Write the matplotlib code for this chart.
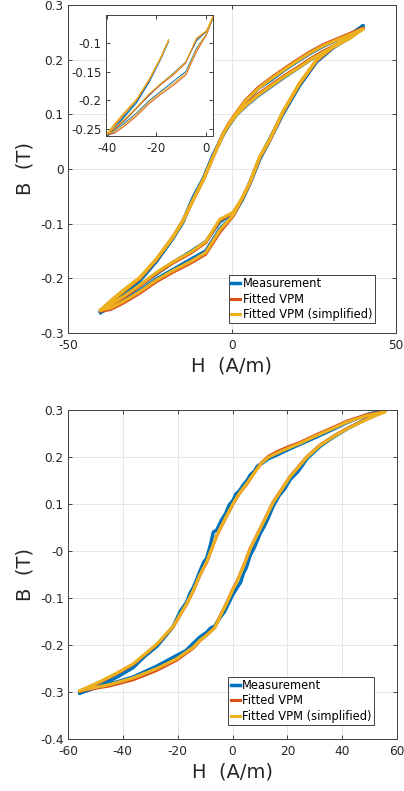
import numpy as np
import matplotlib
matplotlib.use('Agg')
import matplotlib.pyplot as plt
from matplotlib.ticker import FuncFormatter

plt.rcParams['font.family'] = ['DejaVu Sans']
plt.rcParams['axes.unicode_minus'] = False

c_meas = '#0072BD'
c_vpm = '#D95319'
c_simp = '#EDB120'
labels = ['Measurement', 'Fitted VPM', 'Fitted VPM (simplified)']

# ---- top loop (40 A/m), two cycles per series ----
h_asc_top = [-40, -37, -33, -28, -23, -18, -12.8, -8, -3.7, 0.4, 3, 5.5, 8.5, 11.6, 15.6, 20.7, 25.8, 30.9, 36, 40]
h_desc_top = [40, 36, 32, 28, 24, 20, 16, 12, 8, 4, 1.4, -1, -2.6, -5.7, -8.7, -11.8, -15, -18, -23, -28, -33, -37, -40]

meas_asc_1 = [-0.262, -0.251, -0.236, -0.213, -0.192, -0.171, -0.152, -0.133, -0.097, -0.080, -0.057, -0.024, 0.020, 0.056, 0.103, 0.155, 0.197, 0.223, 0.243, 0.262]
meas_asc_2 = [-0.262, -0.254, -0.240, -0.222, -0.201, -0.184, -0.166, -0.150, -0.110, -0.085, -0.058, -0.027, 0.018, 0.053, 0.101, 0.153, 0.196, 0.222, 0.241, 0.260]
meas_desc_1 = [0.262, 0.246, 0.236, 0.225, 0.212, 0.197, 0.181, 0.163, 0.147, 0.121, 0.101, 0.080, 0.064, 0.026, -0.017, -0.052, -0.097, -0.126, -0.168, -0.203, -0.227, -0.247, -0.262]
meas_desc_2 = [0.262, 0.240, 0.227, 0.214, 0.200, 0.184, 0.168, 0.151, 0.134, 0.114, 0.099, 0.079, 0.063, 0.025, -0.018, -0.053, -0.098, -0.127, -0.169, -0.204, -0.229, -0.249, -0.262]

vpm_asc_1 = [-0.260, -0.250, -0.235, -0.214, -0.191, -0.172, -0.155, -0.135, -0.094, -0.080, -0.055, -0.025, 0.022, 0.054, 0.105, 0.157, 0.199, 0.224, 0.242, 0.258]
vpm_asc_2 = [-0.260, -0.257, -0.245, -0.227, -0.206, -0.189, -0.173, -0.156, -0.116, -0.086, -0.056, -0.026, 0.021, 0.053, 0.104, 0.156, 0.198, 0.223, 0.241, 0.257]
vpm_desc_1 = [0.258, 0.248, 0.238, 0.228, 0.215, 0.200, 0.184, 0.167, 0.149, 0.125, 0.104, 0.083, 0.066, 0.023, -0.019, -0.056, -0.095, -0.124, -0.165, -0.199, -0.222, -0.242, -0.258]
vpm_desc_2 = [0.257, 0.241, 0.228, 0.216, 0.202, 0.186, 0.171, 0.154, 0.137, 0.116, 0.100, 0.081, 0.065, 0.022, -0.020, -0.057, -0.096, -0.125, -0.166, -0.200, -0.224, -0.244, -0.258]

simp_asc_1 = [-0.258, -0.248, -0.233, -0.212, -0.189, -0.170, -0.153, -0.133, -0.092, -0.079, -0.054, -0.024, 0.023, 0.055, 0.106, 0.158, 0.200, 0.225, 0.243, 0.256]
simp_asc_2 = [-0.258, -0.254, -0.242, -0.224, -0.203, -0.186, -0.170, -0.153, -0.112, -0.084, -0.055, -0.025, 0.022, 0.054, 0.105, 0.157, 0.199, 0.224, 0.242, 0.256]
simp_desc_1 = [0.256, 0.246, 0.236, 0.226, 0.213, 0.198, 0.182, 0.165, 0.147, 0.123, 0.103, 0.082, 0.065, 0.023, -0.019, -0.056, -0.095, -0.124, -0.164, -0.198, -0.221, -0.241, -0.258]
simp_desc_2 = [0.256, 0.239, 0.226, 0.214, 0.200, 0.184, 0.169, 0.152, 0.135, 0.115, 0.099, 0.080, 0.064, 0.022, -0.020, -0.057, -0.096, -0.125, -0.165, -0.199, -0.223, -0.243, -0.258]

# ---- bottom loop (55 A/m) ----
h_desc_bot = [55.6, 49, 42, 36.7, 30, 24.6, 20, 16.1, 13, 10.6, 8, 5.3, 2.5, 0.2, -2.5, -5.7, -9.4, -11.9, -14.3, -16.6, -21.6, -27.6, -36.2, -42, -48.3, -55.6]
h_asc_bot = [-55.6, -50, -44.7, -36.2, -27.6, -20.3, -14.4, -11.9, -9.4, -6.5, -4.6, -2, 0.2, 1.6, 4, 6.4, 10, 14.8, 21, 27.2, 32, 36.7, 41.5, 46.5, 51, 55.6]

vpm_desc_bot = [0.297, 0.290, 0.277, 0.263, 0.246, 0.231, 0.221, 0.211, 0.201, 0.188, 0.167, 0.143, 0.122, 0.100, 0.070, 0.033, -0.024, -0.052, -0.085, -0.112, -0.161, -0.199, -0.241, -0.260, -0.279, -0.298]
vpm_asc_bot = [-0.298, -0.292, -0.287, -0.274, -0.254, -0.232, -0.207, -0.191, -0.179, -0.163, -0.139, -0.109, -0.080, -0.065, -0.032, 0.005, 0.047, 0.104, 0.159, 0.201, 0.226, 0.244, 0.260, 0.274, 0.286, 0.297]
simp_desc_bot = [0.296, 0.288, 0.275, 0.261, 0.244, 0.229, 0.218, 0.208, 0.199, 0.187, 0.167, 0.144, 0.123, 0.101, 0.071, 0.034, -0.023, -0.051, -0.084, -0.111, -0.160, -0.198, -0.240, -0.259, -0.278, -0.297]
simp_asc_bot = [-0.297, -0.290, -0.284, -0.270, -0.250, -0.229, -0.205, -0.190, -0.179, -0.164, -0.140, -0.110, -0.081, -0.066, -0.033, 0.004, 0.046, 0.103, 0.158, 0.200, 0.225, 0.243, 0.259, 0.273, 0.285, 0.296]

# measurement is read on a finer grid (it is noisier)
h_meas_desc_bot = [55.6, 49, 42, 36.7, 30, 24.6, 20, 16.1, 13, 10.6, 9, 8, 6.5, 5.3, 4, 2.5, 1.2, 0.2, -1.2, -2.5, -4, -5.7, -7, -8, -9.4, -10.5, -11.9, -13, -14.3, -15.5, -16.6, -19, -21.6, -24, -27.6, -32, -36.2, -42, -48.3, -55.6]
meas_desc_bot = [0.300, 0.290, 0.274, 0.259, 0.241, 0.227, 0.215, 0.204, 0.196, 0.186, 0.180, 0.170, 0.162, 0.150, 0.141, 0.128, 0.121, 0.108, 0.098, 0.080, 0.066, 0.045, 0.040, 0.014, -0.015, -0.024, -0.043, -0.060, -0.078, -0.090, -0.108, -0.128, -0.160, -0.178, -0.203, -0.224, -0.248, -0.268, -0.286, -0.302]
h_meas_asc_bot = [-55.6, -50, -44.7, -36.2, -27.6, -20.3, -17, -14.4, -11.9, -9.4, -8, -6.5, -4.6, -3, -2, 0.2, 1.6, 3, 4, 5, 6.4, 8, 10, 11.5, 13, 14.8, 17, 19, 21, 24, 27.2, 32, 36.7, 41.5, 46.5, 51, 55.6]
meas_asc_bot = [-0.302, -0.291, -0.283, -0.268, -0.245, -0.222, -0.212, -0.197, -0.183, -0.173, -0.164, -0.160, -0.142, -0.130, -0.118, -0.092, -0.079, -0.066, -0.047, -0.036, -0.010, 0.008, 0.036, 0.052, 0.070, 0.095, 0.118, 0.132, 0.152, 0.170, 0.197, 0.223, 0.242, 0.259, 0.274, 0.288, 0.300]


def loop(h_a, b_a, h_d, b_d):
    return np.array(h_a + h_d), np.array(b_a + b_d)


def style_axes(ax, fs=8.7):
    ax.tick_params(direction='in', length=3, width=0.6, top=True, right=True,
                   labelsize=fs, colors='0.15')
    ax.tick_params(axis='x', pad=4.5)
    ax.tick_params(axis='y', pad=3)
    for s in ax.spines.values():
        s.set_color('0.25')
        s.set_linewidth(0.7)
    ax.xaxis.set_major_formatter(FuncFormatter(lambda v, p: '%g' % round(v, 6)))
    ax.yaxis.set_major_formatter(FuncFormatter(lambda v, p: '%g' % round(v, 6)))


def add_legend(ax, anchor):
    leg = ax.legend(loc='lower right', bbox_to_anchor=anchor, fontsize=8.3,
                    handlelength=0.8, handletextpad=0.2, labelspacing=0.2,
                    borderpad=0.2, borderaxespad=0, fancybox=False, framealpha=1)
    leg.get_frame().set_edgecolor('0.25')
    leg.get_frame().set_linewidth(0.7)


fig = plt.figure(figsize=(4.04, 7.91), dpi=100)

# top plot
ax1 = fig.add_axes([0.168, 0.579, 0.812, 0.4147])
top_series = [
    (c_meas, 2.5, [(meas_asc_1, meas_desc_1), (meas_asc_2, meas_desc_2)]),
    (c_vpm, 2.2, [(vpm_asc_1, vpm_desc_1), (vpm_asc_2, vpm_desc_2)]),
    (c_simp, 2.2, [(simp_asc_1, simp_desc_1), (simp_asc_2, simp_desc_2)]),
]
for (col, lw, cycles), lab in zip(top_series, labels):
    for k, (ba, bd) in enumerate(cycles):
        h, b = loop(h_asc_top, ba, h_desc_top, bd)
        ax1.plot(h, b, color=col, lw=lw, label=lab if k == 0 else None)

ax1.set_xlim(-50, 50)
ax1.set_ylim(-0.3, 0.3)
ax1.set_xticks([-50, 0, 50])
ax1.set_yticks(np.arange(-0.3, 0.31, 0.1))
ax1.grid(True, color='0.9', lw=0.7)
ax1.set_axisbelow(True)
style_axes(ax1)
ax1.set_xlabel('H  (A/m)', fontsize=14, color='0.15', labelpad=3)
ax1.set_ylabel('B  (T)', fontsize=14, color='0.15', labelpad=4)
add_legend(ax1, (0.935, 0.03))

# inset: lower-left part of the top loop
axi = fig.add_axes([0.262, 0.828, 0.265, 0.153])
for col, lw, cycles in top_series:
    for ba, bd in cycles:
        ha = [h for h in h_asc_top if h <= 3]
        hd = [h for h in h_desc_top if h <= -15]
        axi.plot(ha, ba[:len(ha)], color=col, lw=0.7)
        axi.plot(hd, bd[-len(hd):], color=col, lw=0.7)
axi.set_xlim(-40.5, 3)
axi.set_ylim(-0.262, -0.052)
axi.set_xticks([-40, -20, 0])
axi.set_yticks([-0.25, -0.2, -0.15, -0.1])
style_axes(axi, fs=8.5)

# bottom plot
ax2 = fig.add_axes([0.168, 0.0657, 0.815, 0.416])
ax2.plot(*loop(h_meas_asc_bot, meas_asc_bot, h_meas_desc_bot, meas_desc_bot), color=c_meas, lw=2.5, label=labels[0])
ax2.plot(*loop(h_asc_bot, vpm_asc_bot, h_desc_bot, vpm_desc_bot), color=c_vpm, lw=2.2, label=labels[1])
ax2.plot(*loop(h_asc_bot, simp_asc_bot, h_desc_bot, simp_desc_bot), color=c_simp, lw=2.2, label=labels[2])
ax2.set_xlim(-60, 60)
ax2.set_ylim(-0.4, 0.3)
ax2.set_xticks(np.arange(-60, 61, 20))
ax2.set_yticks(np.arange(-0.4, 0.31, 0.1))
ax2.grid(True, color='0.9', lw=0.7)
ax2.set_axisbelow(True)
style_axes(ax2)
ax2.set_xlabel('H  (A/m)', fontsize=14, color='0.15', labelpad=3)
ax2.set_ylabel('B  (T)', fontsize=14, color='0.15', labelpad=4)
add_legend(ax2, (0.93, 0.043))

fig.savefig('out.png', dpi=100)
